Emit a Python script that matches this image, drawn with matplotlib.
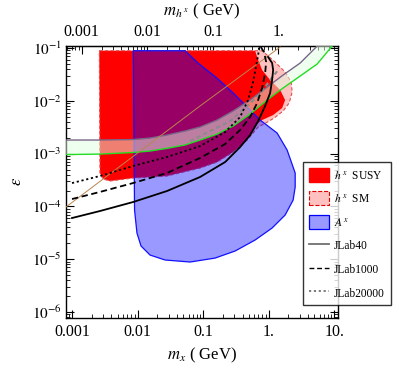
import matplotlib
matplotlib.use('Agg')
import matplotlib.pyplot as plt
from matplotlib.patches import Patch
from matplotlib.lines import Line2D
from matplotlib.ticker import LogLocator, NullFormatter, FixedLocator, FixedFormatter

plt.rcParams['font.family'] = ['Liberation Serif', 'DejaVu Serif']
plt.rcParams['mathtext.fontset'] = 'stix'

# ratio m_x / m_hx used for the top axis
HX_RATIO = 1.41

# h^x SUSY region (m_x in GeV, epsilon)
susy_m = [0.00261, 0.622, 0.692, 0.796, 1.054, 1.50, 1.786, 1.607, 1.172, 0.796, 0.661,
          0.470, 0.287, 0.164, 0.090, 0.0282, 0.00863, 0.0038, 0.00297, 0.00267]
susy_eps = [0.0889, 0.0889, 0.0593, 0.0383, 0.0248, 0.0160, 0.01035, 0.00731, 0.00538, 0.00433, 0.00364,
            0.00181, 0.00107, 0.000693, 0.000533, 0.000377, 0.000345, 0.000303, 0.000331, 0.00043]

# h^x SM region
sm_m = [0.00261, 0.796, 1.256, 1.786, 2.208, 2.286, 2.056, 1.663, 1.213, 0.853, 0.692,
        0.470, 0.287, 0.164, 0.090, 0.0282, 0.00863, 0.0038, 0.00297, 0.00267]
sm_eps = [0.0889, 0.0889, 0.0543, 0.0351, 0.0227, 0.0147, 0.00908, 0.00641, 0.00472, 0.00364, 0.00319,
          0.00181, 0.00107, 0.000693, 0.000533, 0.000377, 0.000345, 0.000303, 0.000331, 0.00043]

# A^x region
ax_m = [0.00863, 0.0531, 0.0847, 0.164, 0.287, 0.465, 0.579, 0.741, 1.349, 1.914, 2.541, 2.541,
        2.366, 1.786, 1.130, 0.622, 0.308, 0.152, 0.0634, 0.0263, 0.0155, 0.0113, 0.0098, 0.0090]
ax_eps = [0.0889, 0.0889, 0.0513, 0.0267, 0.0141, 0.00773, 0.00587, 0.00433, 0.00245, 0.00117, 0.00043, 0.000233,
          0.000132, 6.87e-5, 3.90e-5, 2.31e-5, 1.43e-5, 1.05e-5, 8.85e-6, 9.66e-6, 1.20e-5, 1.78e-5, 3.13e-5, 8.55e-5]

# g-2 band edges
band_m = [0.00081, 0.00267, 0.00853, 0.0155, 0.0282, 0.0531, 0.090, 0.164, 0.287, 0.522, 0.948, 1.663, 3.03, 5.50, 9.31]
band_up = [1.81e-3, 1.81e-3, 1.85e-3, 1.97e-3, 2.25e-3, 2.68e-3, 3.19e-3, 4.33e-3, 6.41e-3, 0.01035, 0.0182, 0.0308, 0.052, 0.109, 0.19]
band_lo = [9.6e-4, 9.8e-4, 1.05e-3, 1.12e-3, 1.26e-3, 1.46e-3, 1.81e-3, 2.35e-3, 3.33e-3, 5.62e-3, 0.01035, 0.0175, 0.0295, 0.0498, 0.109]
# central line inside band
mid_m = [0.0634, 0.090, 0.258, 0.438, 0.741, 1.054, 1.396]
mid_eps = [0.00173, 0.00215, 0.00414, 0.00731, 0.01346, 0.0248, 0.0383]

# brown diagonal line
brown_m = [0.00081, 0.090, 1.50]
brown_eps = [9.75e-5, 8.0e-3, 0.1045]

# JLab reach curves
j40_m = [0.001, 0.00267, 0.00853, 0.0282, 0.090, 0.217, 0.367, 0.522, 0.692, 0.885, 1.054, 1.130, 1.172, 1.130, 0.982]
j40_eps = [6.03e-5, 8.18e-5, 1.21e-4, 1.96e-4, 3.61e-4, 6.93e-4, 1.33e-3, 2.25e-3, 4.14e-3, 7.98e-3, 0.0141, 0.0248, 0.0383, 0.0520, 0.0676]
j1000_m = [0.001, 0.00267, 0.00853, 0.0282, 0.090, 0.217, 0.367, 0.522, 0.667, 0.796, 0.885, 0.916, 0.853, 0.741]
j1000_eps = [1.38e-4, 1.88e-4, 2.77e-4, 4.30e-4, 8.26e-4, 1.52e-3, 2.80e-3, 4.93e-3, 9.08e-3, 0.0175, 0.0337, 0.0543, 0.0839, 0.109]
j20000_m = [0.001, 0.00267, 0.00853, 0.0282, 0.090, 0.217, 0.367, 0.486, 0.579, 0.644, 0.692, 0.716]
j20000_eps = [2.77e-4, 3.77e-4, 5.82e-4, 8.63e-4, 1.39e-3, 2.56e-3, 4.93e-3, 0.01035, 0.0227, 0.0456, 0.0736, 0.1045]

x_ticks = [0.001, 0.01, 0.1, 1, 10]
x_labels = ['0.001', '0.01', '0.1', '1.', '10.']
top_ticks = [0.001, 0.01, 0.1, 1]
top_labels = ['0.001', '0.01', '0.1', '1.']
y_ticks = [1e-6, 1e-5, 1e-4, 1e-3, 1e-2, 1e-1]
y_labels = [r'$10^{-6}$', r'$10^{-5}$', r'$10^{-4}$', r'$10^{-3}$', r'$10^{-2}$', r'$10^{-1}$']

fig = plt.figure(figsize=(4, 3.71), dpi=100)
ax = fig.add_axes([0.165, 0.1442, 0.681, 0.7326])
ax.set_xscale('log')
ax.set_yscale('log')

ax.fill(sm_m, sm_eps, facecolor='#ffc0c0', edgecolor='none', zorder=1)
ax.fill(susy_m, susy_eps, facecolor='#ff0000', edgecolor='none', zorder=2)
ax.fill(sm_m, sm_eps, facecolor='none', edgecolor='#e05050', lw=0.8, ls=(0, (3, 2)), zorder=2.5)
ax.fill(ax_m, ax_eps, facecolor=(0, 0, 1, 0.4), edgecolor='#1010ff', lw=0.9, zorder=3)

ax.fill_between(band_m, band_lo, band_up, facecolor=(0.88, 1.0, 0.88, 0.5), edgecolor='none', zorder=4)
ax.plot(band_m, band_up, color='#7a6688', lw=1.0, zorder=4.5)
ax.plot(band_m, band_lo, color='#22dd22', lw=1.0, zorder=4.5)
ax.plot(mid_m, mid_eps, color='#8a8a8a', lw=1.5, ls=(0, (2, 1.5)), zorder=4.6)
ax.plot(brown_m, brown_eps, color='#b8864e', lw=0.7, zorder=4.7)

ax.plot(j40_m, j40_eps, color='black', lw=1.3, zorder=6)
ax.plot(j1000_m, j1000_eps, color='black', lw=1.3, ls=(0, (3.5, 2)), zorder=6)
ax.plot(j20000_m, j20000_eps, color='black', lw=1.3, ls=(0, (1.2, 1.5)), zorder=6)

ax.set_xlim(0.00081, 11.6)
ax.set_ylim(7.87e-7, 0.1107)

ax.xaxis.set_major_locator(FixedLocator(x_ticks))
ax.xaxis.set_major_formatter(FixedFormatter(x_labels))
ax.xaxis.set_minor_locator(LogLocator(base=10, subs=range(2, 10), numticks=20))
ax.xaxis.set_minor_formatter(NullFormatter())
ax.yaxis.set_major_locator(FixedLocator(y_ticks))
ax.yaxis.set_major_formatter(FixedFormatter(y_labels))
ax.yaxis.set_minor_locator(LogLocator(base=10, subs=range(2, 10), numticks=20))
ax.yaxis.set_minor_formatter(NullFormatter())
ax.tick_params(which='both', direction='in', top=False, right=True)
ax.tick_params(which='major', length=6, width=0.8)
ax.tick_params(which='minor', length=3, width=0.6)
ax.tick_params(axis='x', labelsize=11.5, pad=5)
ax.tick_params(axis='y', labelsize=11, pad=3)
for s in ax.spines.values():
    s.set_linewidth(1.0)

sec = ax.secondary_xaxis('top', functions=(lambda m: m / HX_RATIO, lambda m: m * HX_RATIO))
sec.xaxis.set_major_locator(FixedLocator(top_ticks))
sec.xaxis.set_major_formatter(FixedFormatter(top_labels))
sec.xaxis.set_minor_locator(LogLocator(base=10, subs=range(2, 10), numticks=20))
sec.xaxis.set_minor_formatter(NullFormatter())
sec.tick_params(which='both', direction='in')
sec.tick_params(which='major', length=6, width=0.8, labelsize=11.5, pad=4)
sec.tick_params(which='minor', length=3, width=0.6)
sec.set_xlabel(r'$m_{h^{\,x}}$ ( GeV)', fontsize=12, labelpad=6)

ax.set_xlabel(r'$m_x$ ( GeV)', fontsize=12, labelpad=4)
ax.set_ylabel(r'$\epsilon$', fontsize=12, rotation=90, labelpad=5)

handles = [
    Patch(facecolor='#ff0000', edgecolor='#ff0000'),
    Patch(facecolor='#ffc0c0', edgecolor='#e00000', ls='--', lw=0.8),
    Patch(facecolor=(0.6, 0.6, 1.0), edgecolor='#0000ff', lw=0.9),
    Line2D([], [], color='#707070', lw=1.3),
    Line2D([], [], color='black', lw=1.0, ls=(0, (3.5, 2))),
    Line2D([], [], color='#707070', lw=1.3, ls=(0, (1.2, 1.5))),
]
labels = [r'$h^{\,x}$  SUSY', r'$h^{\,x}$  SM', r'$A^{\,x}$', 'JLab40', 'JLab1000', 'JLab20000']
leg = fig.legend(handles, labels, loc='upper left', bbox_to_anchor=(303 / 400, 1 - 162 / 371),
                 fontsize=8.3, frameon=True, fancybox=False, borderaxespad=0,
                 handlelength=1.75, handleheight=1.48, labelspacing=0.84, handletextpad=0.45,
                 borderpad=0.5)
leg.get_frame().set_edgecolor('black')
leg.get_frame().set_linewidth(1.0)
leg.set_zorder(10)

fig.savefig('out.png', dpi=100)
